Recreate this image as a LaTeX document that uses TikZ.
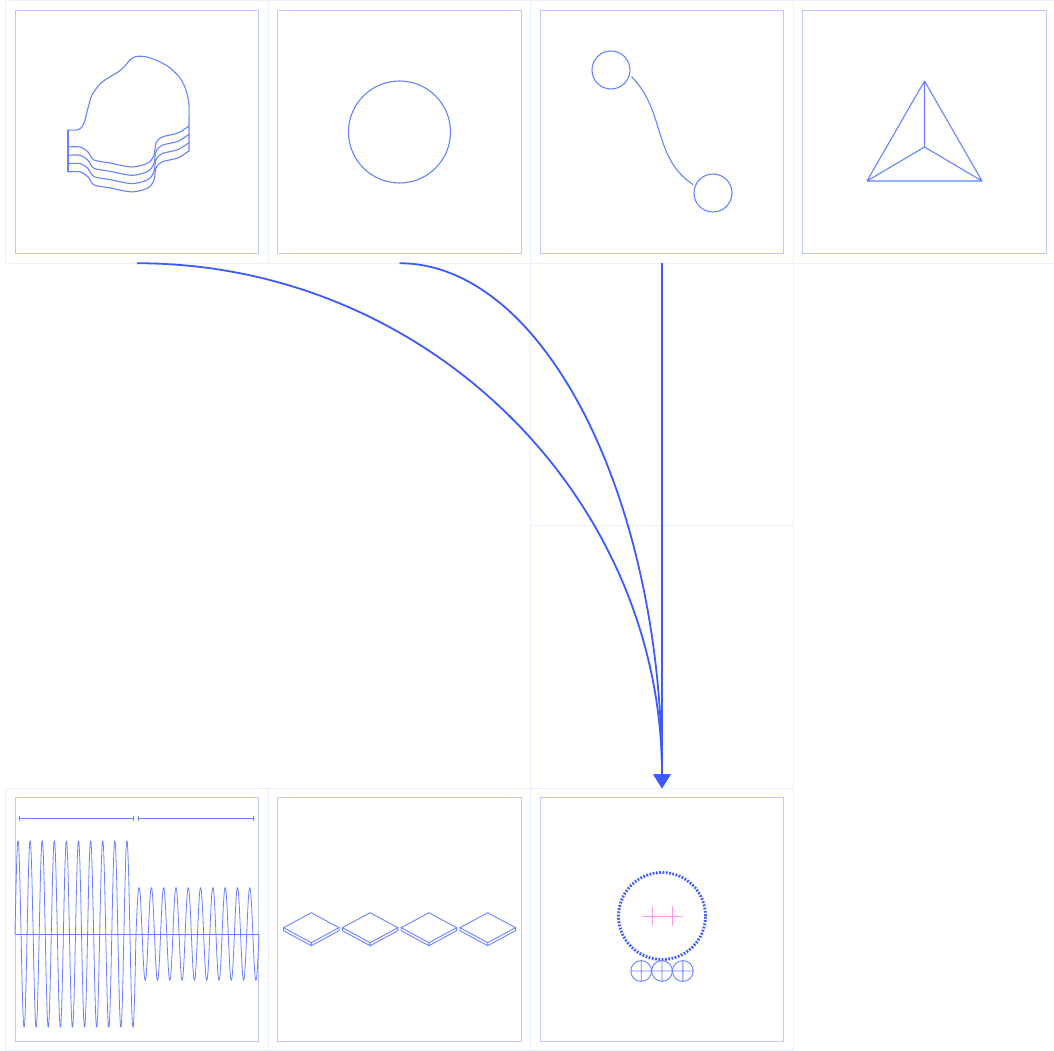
\documentclass[tikz,border=0pt]{standalone}
\usepackage{tikz}
\usetikzlibrary{arrows.meta,positioning}
\definecolor{linkblue}{RGB}{59,91,255}
\definecolor{inkblue}{RGB}{104,130,255}
\definecolor{panelblue}{RGB}{190,200,255}
\definecolor{gridblue}{RGB}{236,239,255}
\definecolor{markpink}{RGB}{255,150,240}

\begin{document}
\begin{tikzpicture}[x=1pt,y=1pt,
    tile/.style={draw=gridblue,line width=1pt,minimum size=262.5pt,inner sep=0pt,outer sep=0pt},
    panel/.style={draw=panelblue,line width=1.2pt,minimum size=243.5pt,inner sep=0pt},
    ink/.style={draw=inkblue,line width=1.1pt},
    knob/.style={circle,draw=inkblue,line width=1.1pt,minimum size=38pt,inner sep=0pt,outer sep=2.5pt},
    link/.style={draw=linkblue,line width=1.8pt,-{Triangle[length=14pt,width=17pt]}}]

  \useasboundingbox (0,0) rectangle (1054,1050);

  % Tiles
  \node[tile] (blob) at (137,918) {};
  \node[tile,right=0pt of blob] (disc) {};
  \node[tile,right=0pt of disc] (pair) {};
  \node[tile,right=0pt of pair] (tetra) {};
  \node[tile,below=0pt of pair] (mid-a) {};
  \node[tile,below=0pt of mid-a] (mid-b) {};
  \node[tile,below=0pt of mid-b] (ring) {};
  \node[tile,left=0pt of ring] (tiles) {};
  \node[tile,left=0pt of tiles] (wave) {};
  \foreach \t in {blob,disc,pair,tetra,wave,tiles,ring}
    \node[panel] (\t-p) at (\t) {};

  % Stacked blob
  \begin{scope}[shift={(blob.center)}]
    \draw[ink] plot[smooth] coordinates {(-69,2) (-60,2) (-55,5) (-52,12) (-49,24)
      (-45,37) (-37,48) (-29,54) (-19,60) (-13,65) (-7,72) (-1,75.5) (10,75)
      (23,70) (33,64) (43,54) (49,42) (52,27) (52,14)} -- (52,-19);
    \draw[ink] (-69,2) -- (-69,-40);
    \foreach \k in {0,...,3}
      \draw[ink,yshift=-\k*8.3pt] plot[smooth] coordinates {(-69,-15) (-57,-15)
        (-49,-20) (-43,-28) (-27,-31) (-5,-35) (11,-31) (17,-23) (19,-11)
        (25,-5) (41,-1) (52,6)};
  \end{scope}

  % Disc
  \draw[ink] (disc.center) circle[radius=51];

  % Two knobs
  \begin{scope}[shift={(pair.center)}]
    \node[knob] (knob-a) at (-51,62) {};
    \node[knob] (knob-b) at (51,-61) {};
    \draw[ink] (knob-a.-18) to[out=-45,in=147] (knob-b.157);
  \end{scope}

  % Tetrahedron
  \begin{scope}[shift={(tetra.center)}]
    \coordinate (apex) at (0,51);
    \coordinate (foot-l) at (-57.5,-49);
    \coordinate (foot-r) at (57.5,-49);
    \coordinate (hub) at (0,-15);
    \draw[ink,line join=round] (apex) -- (foot-l) -- (foot-r) -- cycle
      (apex) -- (hub) (foot-l) -- (hub) -- (foot-r);
  \end{scope}

  % Waveform, phase in degrees
  \begin{scope}[shift={(wave.center)}]
    \draw[ink,line width=0.8pt] plot[domain=0:3600,samples=301,smooth]
      ({\x/360*12.1-122},{-14.5+93.5*sin(\x)});
    \draw[ink,line width=0.8pt] plot[domain=0:3600,samples=301,smooth]
      ({\x/360*12.3-1},{-14.5+46.5*sin(\x)});
    \draw[ink,line width=0.8pt] (-122,-14.5) -- (122,-14.5);
    \draw[ink,line width=0.7pt,{Bar[width=5pt]}-{Bar[width=5pt]}] (-118,101.5) -- (-3,101.5);
    \draw[ink,line width=0.7pt,{Bar[width=5pt]}-{Bar[width=5pt]}] (1,101.5) -- (117,101.5);
  \end{scope}

  % Slabs
  \begin{scope}[shift={(tiles.center)}]
    \foreach \i in {0,...,3} {
      \begin{scope}[shift={(-88.2+58.8*\i,-8.2)}]
        \draw[ink,line width=0.9pt] (-27.7,0) -- (0,15) -- (27.7,0) -- (0,-15) -- cycle;
        \draw[ink,line width=0.9pt] (-27.7,0) -- (-27.7,-3) -- (0,-18) -- (27.7,-3) -- (27.7,0)
          (0,-15) -- (0,-18);
      \end{scope}
    }
  \end{scope}

  % Ring with gauges
  \begin{scope}[shift={(ring.center)}]
    \draw[linkblue,line width=2.8pt,dash pattern=on 1.8pt off 1.5pt] (0,3.5) circle[radius=43.5];
    \draw[markpink,line width=1pt] (-20,3.5) -- (20,3.5)
      (-10,-6.5) -- (-10,13.5) (10,-6.5) -- (10,13.5);
    \foreach \x in {-20.8,0,20.8}
      \draw[ink,line width=0.9pt] (\x,-51.5) circle[radius=10.4]
        (\x-10.4,-51.5) -- (\x+10.4,-51.5) (\x,-61.9) -- (\x,-41.1);
  \end{scope}

  % Links
  \draw[link] (blob.south) to[out=0,in=90] (ring.north);
  \draw[link] (disc.south) to[out=0,in=90,out looseness=0.63,in looseness=1.26] (ring.north);
  \draw[link] (pair.south) -- (ring.north);
\end{tikzpicture}
\end{document}
